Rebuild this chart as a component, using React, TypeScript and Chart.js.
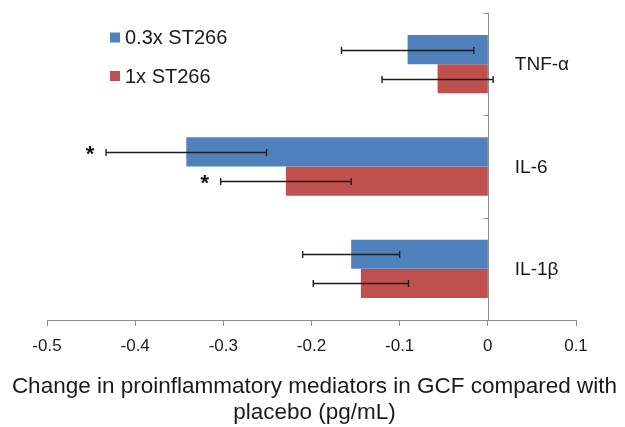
import React, { useEffect, useRef } from 'react';
import { Chart, registerables } from 'chart.js';

Chart.register(...registerables);

const categories = ['TNF-α', 'IL-6', 'IL-1β'];
const seriesNames = ['0.3x ST266', '1x ST266'];
const lowDoseValues = [-0.091, -0.342, -0.155];
const highDoseValues = [-0.057, -0.229, -0.144];
const lowDoseErrors = [0.075, 0.091, 0.055];
const highDoseErrors = [0.063, 0.074, 0.054];
const lowDoseSignificant = [false, true, false];
const highDoseSignificant = [false, true, false];
const xMin = -0.5;
const xMax = 0.1;
const xStep = 0.1;
const axisTitleLines = ['Change in proinflammatory mediators in GCF compared with', 'placebo (pg/mL)'];

const BLUE = '#4F81BD';
const RED = '#C0504D';
const AXIS_GRAY = '#8c8c8c';
const TEXT = '#1a1a1a';
const FONT = '"Liberation Sans", Arial, sans-serif';

const overlayPlugin = {
  id: 'overlay',
  beforeDatasetsDraw(chart: any) {
    const { ctx, chartArea, scales } = chart;
    const x = scales.x;
    const x0 = Math.round(x.getPixelForValue(0)) + 0.5;
    ctx.save();
    ctx.strokeStyle = AXIS_GRAY;
    ctx.lineWidth = 1;
    ctx.beginPath();
    ctx.moveTo(x0, chartArea.top);
    ctx.lineTo(x0, chartArea.bottom);
    const band = (chartArea.bottom - chartArea.top) / categories.length;
    for (let i = 0; i < categories.length; i++) {
      const yy = Math.round(chartArea.top + i * band) + 0.5;
      ctx.moveTo(x0 - 5, yy);
      ctx.lineTo(x0, yy);
    }
    ctx.stroke();
    ctx.restore();
  },
  afterDatasetsDraw(chart: any) {
    const { ctx, chartArea, scales } = chart;
    const x = scales.x;
    const y = scales.y;
    const errs = [lowDoseErrors, highDoseErrors];
    const sigs = [lowDoseSignificant, highDoseSignificant];
    ctx.save();
    chart.data.datasets.forEach((ds: any, di: number) => {
      const meta = chart.getDatasetMeta(di);
      meta.data.forEach((bar: any, i: number) => {
        const v = ds.data[i];
        const e = errs[di][i];
        const xl = x.getPixelForValue(v - e);
        const xr = x.getPixelForValue(v + e);
        const yy = Math.round(bar.y) + 0.5;
        ctx.strokeStyle = '#1c1c1c';
        ctx.lineWidth = 1.4;
        ctx.beginPath();
        ctx.moveTo(xl, yy);
        ctx.lineTo(xr, yy);
        ctx.moveTo(xl, yy - 3.5);
        ctx.lineTo(xl, yy + 3.5);
        ctx.moveTo(xr, yy - 3.5);
        ctx.lineTo(xr, yy + 3.5);
        ctx.stroke();
        if (sigs[di][i]) {
          const size = 22;
          ctx.font = `bold ${size}px ${FONT}`;
          ctx.fillStyle = '#111';
          ctx.textAlign = 'center';
          ctx.textBaseline = 'alphabetic';
          ctx.fillText('*', xl - 16, yy + 0.4 * size);
        }
      });
    });

    // category labels to the right of zero line
    ctx.font = `19px ${FONT}`;
    ctx.fillStyle = TEXT;
    ctx.textAlign = 'left';
    ctx.textBaseline = 'middle';
    categories.forEach((c, i) => {
      ctx.fillText(c, x.getPixelForValue(0) + 27, y.getPixelForValue(i) + 1);
    });

    // legend
    const colors = [BLUE, RED];
    const legendY = [37.5, 76];
    ctx.font = `20px ${FONT}`;
    seriesNames.forEach((name, i) => {
      ctx.fillStyle = colors[i];
      ctx.fillRect(110, legendY[i] - 5, 10, 10);
      ctx.fillStyle = TEXT;
      ctx.textAlign = 'left';
      ctx.textBaseline = 'middle';
      ctx.fillText(name, 125, legendY[i] + 1);
    });

    // axis title
    ctx.font = `22.5px ${FONT}`;
    ctx.fillStyle = TEXT;
    ctx.textAlign = 'center';
    ctx.textBaseline = 'middle';
    const cx = (chartArea.left + chartArea.right) / 2 + 3;
    axisTitleLines.forEach((line, i) => {
      ctx.fillText(line, cx, 387 + i * 26);
    });
    ctx.restore();
  },
};

export default function App() {
  const canvasRef = useRef<HTMLCanvasElement | null>(null);

  useEffect(() => {
    document.body.style.margin = '0';
    const canvas = canvasRef.current;
    if (!canvas) return;
    const chart = new Chart(canvas, {
      type: 'bar',
      data: {
        labels: categories,
        datasets: [
          {
            label: seriesNames[0],
            data: lowDoseValues,
            backgroundColor: BLUE,
            borderWidth: 0,
            categoryPercentage: 0.57,
            barPercentage: 1.0,
          },
          {
            label: seriesNames[1],
            data: highDoseValues,
            backgroundColor: RED,
            borderWidth: 0,
            categoryPercentage: 0.57,
            barPercentage: 1.0,
          },
        ],
      },
      plugins: [overlayPlugin],
      options: {
        indexAxis: 'y',
        responsive: false,
        animation: false,
        devicePixelRatio: 1,
        layout: { padding: { left: 47, right: 49, top: 13, bottom: 0 } },
        plugins: {
          legend: { display: false },
          tooltip: { enabled: false },
        },
        scales: {
          x: {
            type: 'linear',
            min: xMin,
            max: xMax,
            afterFit: (scale: any) => {
              scale.height = 107;
            },
            border: { display: true, color: AXIS_GRAY, width: 1 },
            grid: {
              drawOnChartArea: false,
              drawTicks: true,
              tickLength: 6,
              color: AXIS_GRAY,
            },
            ticks: {
              stepSize: xStep,
              padding: 10,
              color: TEXT,
              font: { family: FONT, size: 17 },
              maxRotation: 0,
              callback: (v: any) => {
                const r = Math.round(Number(v) * 10) / 10;
                return r === 0 ? '0' : String(r);
              },
            },
            title: { display: false },
          },
          y: {
            type: 'category',
            display: false,
            offset: true,
          },
        },
      },
    });
    return () => chart.destroy();
  }, []);

  return (
    <div style={{ width: 625, height: 427, position: 'relative', background: '#fff' }}>
      <canvas ref={canvasRef} width={625} height={427} style={{ display: 'block' }} />
    </div>
  );
}
